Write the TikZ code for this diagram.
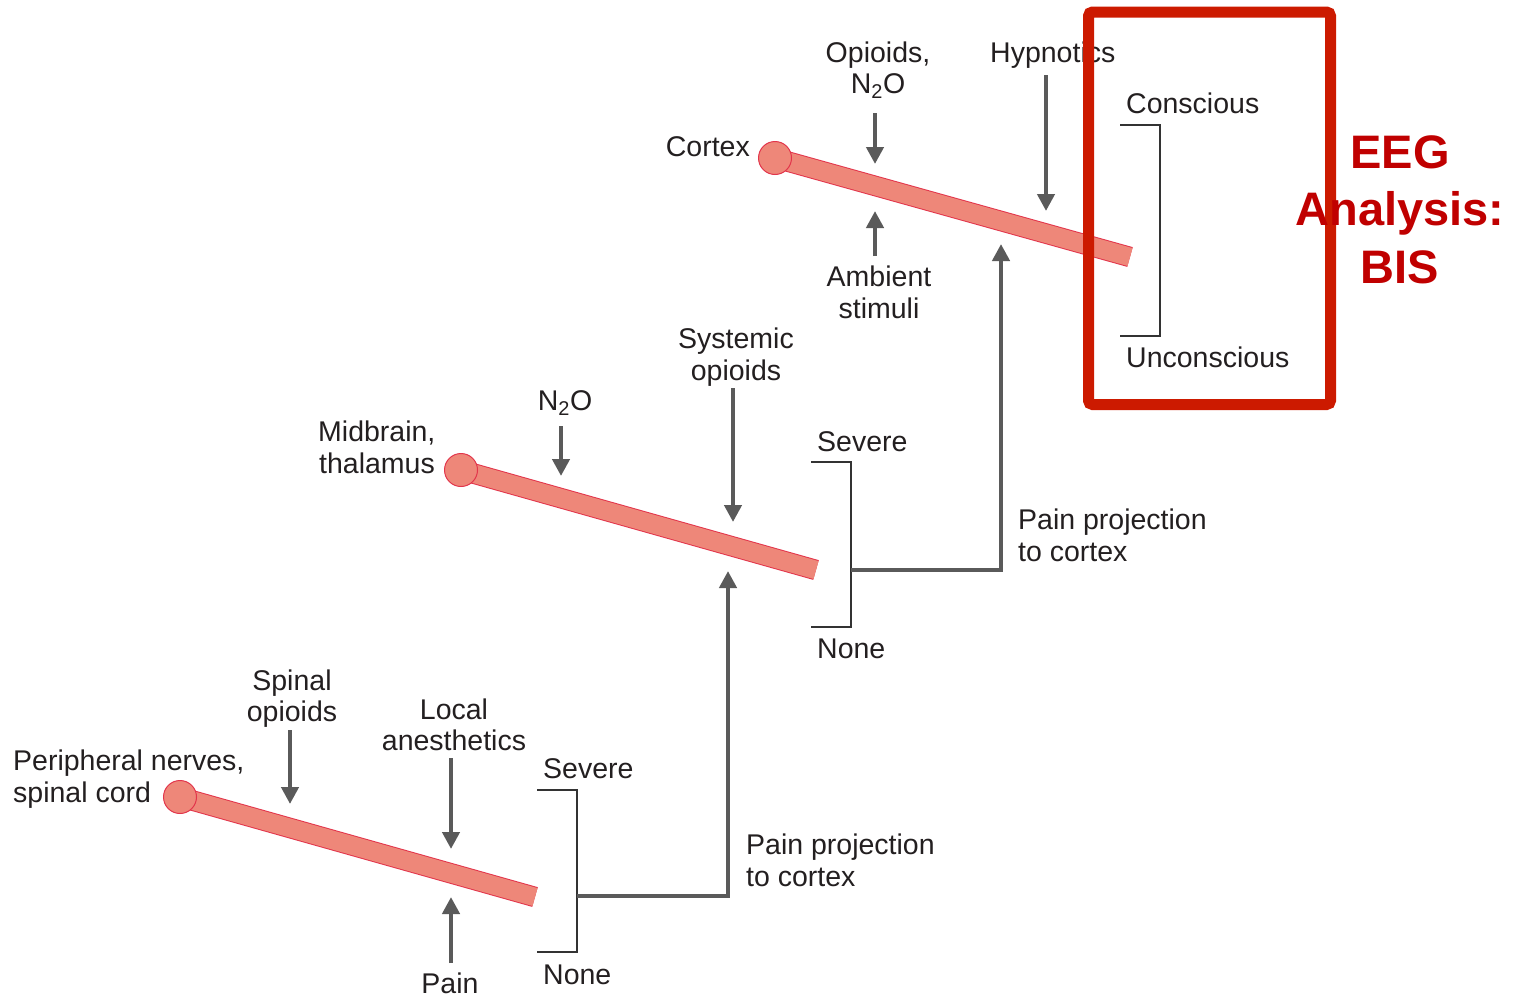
\documentclass[tikz,border=0pt]{standalone}
\usepackage{fontspec}
\setmainfont{Liberation Sans}
\usetikzlibrary{arrows.meta}
\definecolor{barfill}{HTML}{EE8779}
\definecolor{barline}{HTML}{E2354B}
\definecolor{arrgray}{HTML}{5A5A5A}
\definecolor{txt}{HTML}{231F20}
\definecolor{brk}{HTML}{333333}
\definecolor{boxred}{HTML}{CC1A00}
\definecolor{eegred}{HTML}{C00000}
\begin{document}
\begin{tikzpicture}[x=1pt,y=-1pt,
  lbl/.style={inner sep=0pt, anchor=base, text=txt, font=\fontsize{28.5}{32}\selectfont},
  lbll/.style={lbl, anchor=base west},
  lblr/.style={lbl, anchor=base east},
  eeg/.style={inner sep=0pt, anchor=base, text=eegred, font=\fontsize{47}{57}\selectfont\bfseries},
  barout/.style={line width=20.5pt, draw=barline},
  barin/.style={line width=18.5pt, draw=barfill},
  knob/.style={circle, minimum size=33pt, inner sep=0pt, fill=barfill, draw=barline, line width=1pt},
  arr/.style={line width=4.5pt, draw=arrgray, -{Triangle[length=17pt,width=17pt]}},
  proj/.style={line width=4.5pt, draw=arrgray, -{Triangle[length=17pt,width=17pt]}},
  bracket/.style={line width=2pt, draw=brk},
  redbox/.style={line width=11pt, draw=boxred, rounded corners=4pt}
]
\useasboundingbox (0,0) rectangle (1520,996);

% ---------- bars ----------
\coordinate (c0) at (775,158);  \coordinate (c1) at (1130,257);
\coordinate (m0) at (461,470);  \coordinate (m1) at (816,570);
\coordinate (p0) at (180,797);  \coordinate (p1) at (535,897);
\foreach \a/\b in {c0/c1, m0/m1, p0/p1}{
  \draw[barout] (\a) -- (\b);
  \draw[barin] (\a) -- (\b);
}
\node[knob] (ck) at (c0) {};
\node[knob] (mk) at (m0) {};
\node[knob] (pk) at (p0) {};

% ---------- labels ----------
\node[lbl] (opi1) at (878,62) {Opioids,};
\node[lbl] (opi2) at (878,93) {N\textsubscript{2}O};
\node[lbll] (hyp) at (990,62) {Hypnotics};
\node[lblr] (cortex) at (750,156) {Cortex};
\node[lbl] (amb1) at (879,286) {Ambient};
\node[lbl] (amb2) at (879,318) {stimuli};
\node[lbll] (consc) at (1126,113) {Conscious};
\node[lbll] (uncon) at (1126,367) {Unconscious};
\node[lbl] (sys1) at (736,348) {Systemic};
\node[lbl] (sys2) at (736,380) {opioids};
\node[lbl] (n2o) at (565,410) {N\textsubscript{2}O};
\node[lbll] (mid1) at (318,441) {Midbrain,};
\node[lbll] (mid2) at (319,473) {thalamus};
\node[lbll] (sev1) at (817,451) {Severe};
\node[lbll] (non1) at (817,658) {None};
\node[lbll] (pp1a) at (1018,529) {Pain projection};
\node[lbll] (pp1b) at (1018,561) {to cortex};
\node[lbl] (spi1) at (292,690) {Spinal};
\node[lbl] (spi2) at (292,721) {opioids};
\node[lbl] (loc1) at (454,719) {Local};
\node[lbl] (loc2) at (454,750) {anesthetics};
\node[lbll] (per1) at (13,770) {Peripheral nerves,};
\node[lbll] (per2) at (13,802) {spinal cord};
\node[lbll] (sev2) at (543,778) {Severe};
\node[lbll] (non2) at (543,984) {None};
\node[lbll] (pp2a) at (746,854) {Pain projection};
\node[lbll] (pp2b) at (746,886) {to cortex};
\node[lbl] (pain) at (450,993) {Pain};

% ---------- drug / stimulus arrows ----------
\coordinate (a1s) at (875,113); \coordinate (a1e) at (875,164);
\coordinate (a2s) at (875,256); \coordinate (a2e) at (875,211);
\coordinate (a3s) at (1046,75); \coordinate (a3e) at (1046,211);
\coordinate (a4s) at (561,426); \coordinate (a4e) at (561,476);
\coordinate (a5s) at (733,388); \coordinate (a5e) at (733,522);
\coordinate (a6s) at (290,730); \coordinate (a6e) at (290,804);
\coordinate (a7s) at (451,758); \coordinate (a7e) at (451,849);
\coordinate (a8s) at (451,963); \coordinate (a8e) at (451,897);
\foreach \s/\e in {a1s/a1e, a2s/a2e, a3s/a3e, a4s/a4e, a5s/a5e, a6s/a6e, a7s/a7e, a8s/a8e}{
  \draw[arr] (\s) -- (\e);
}

% ---------- brackets ----------
\coordinate (b1t) at (1120,125); \coordinate (b1b) at (1120,336);
\draw[bracket] (b1t) -- (1160,125) -- (1160,336) -- (b1b);
\coordinate (b2t) at (811,462); \coordinate (b2b) at (811,627);
\draw[bracket] (b2t) -- (851,462) -- (851,627) -- (b2b);
\coordinate (b3t) at (537,790); \coordinate (b3b) at (537,952);
\draw[bracket] (b3t) -- (577,790) -- (577,952) -- (b3b);

% ---------- pain projections ----------
\coordinate (b2m) at (851,570); \coordinate (t2) at (1001,244);
\draw[proj] (b2m) -| (t2);
\coordinate (b3m) at (577,896); \coordinate (t3) at (728,571);
\draw[proj] (b3m) -| (t3);

% ---------- EEG box ----------
\draw[redbox] (1088.5,12) rectangle (1330.5,404.5);
\node[eeg] (eeg1) at (1400,168) {EEG};
\node[eeg] (eeg2) at (1400,225) {Analysis:};
\node[eeg] (eeg3) at (1400,283) {BIS};
\end{tikzpicture}
\end{document}
